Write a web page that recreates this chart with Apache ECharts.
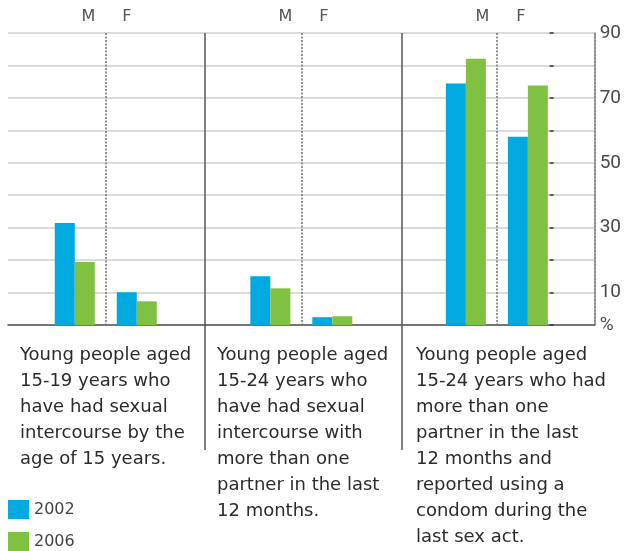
<!DOCTYPE html>
<html>
<head>
<meta charset="utf-8">
<script src="https://cdn.jsdelivr.net/npm/echarts@6/dist/echarts.min.js"></script>
<style>
html, body { margin: 0; padding: 0; background: #fff; }
#main { width: 624px; height: 551px; }
</style>
</head>
<body>
<div id="main"></div>
<script>
// three indicators, each split into M / F, two survey years
var groups = ['A', 'B', 'C'];
var subGroups = ['M', 'F', 'M', 'F', 'M', 'F'];
var male2002 = [31.4, 15.0, 74.4];
var male2006 = [19.4, 11.3, 82.1];
var female2002 = [10.1, 2.4, 58.0];
var female2006 = [7.3, 2.7, 73.8];
var years = ['2002', '2006'];
var yTickLabels = { 0: '%', 10: '10', 30: '30', 50: '50', 70: '70', 90: '90' };
var notes = [
  'Young people aged\n15-19 years who\nhave had sexual\nintercourse by the\nage of 15 years.',
  'Young people aged\n15-24 years who\nhave had sexual\nintercourse with\nmore than one\npartner in the last\n12 months.',
  'Young people aged\n15-24 years who had\nmore than one\npartner in the last\n12 months and\nreported using a\ncondom during the\nlast sex act.'
];

var BLUE = '#00a9e0';
var GREEN = '#80c141';

var chart = echarts.init(document.getElementById('main'));

function noAxisBits(o) {
  o.axisLine = o.axisLine || { show: false };
  o.axisTick = { show: false };
  o.axisLabel = o.axisLabel || { show: false };
  o.splitLine = o.splitLine || { show: false };
  return o;
}

var noteLeft = [20, 217, 416];
var titles = notes.map(function (t, i) {
  return {
    text: t,
    left: noteLeft[i],
    top: 342,
    padding: 0,
    textStyle: {
      fontFamily: 'DejaVu Sans',
      fontSize: 18,
      fontWeight: 'normal',
      lineHeight: 26,
      color: '#2b2b2b'
    }
  };
});

var option = {
  animation: false,
  title: titles,
  legend: {
    data: years,
    orient: 'vertical',
    left: 8,
    top: 500,
    padding: 0,
    icon: 'rect',
    itemWidth: 21,
    itemHeight: 19,
    itemGap: 13,
    textStyle: { fontFamily: 'DejaVu Sans', fontSize: 16, color: '#444' }
  },
  grid: [
    { left: 8, right: 25, top: 33, bottom: 226 },
    { left: 8, right: 25, top: 33, bottom: 101 }
  ],
  xAxis: [
    noAxisBits({
      type: 'category', gridIndex: 0, position: 'bottom', data: groups,
      axisLine: { show: true, lineStyle: { color: '#555', width: 1.5 } }
    }),
    noAxisBits({
      type: 'category', gridIndex: 0, position: 'top', data: subGroups,
      splitLine: {
        show: true,
        // only the M | F boundaries are dotted
        interval: function (index) { return index % 2 === 1; },
        lineStyle: { color: '#6f6f6f', width: 1.5, type: [2, 1.5] }
      }
    }),
    noAxisBits({
      type: 'category', gridIndex: 1, position: 'bottom', data: groups,
      splitLine: {
        show: true, showMinLine: false, showMaxLine: false,
        lineStyle: { color: '#555', width: 1.5 }
      }
    }),
    noAxisBits({
      type: 'category', gridIndex: 1, position: 'top', data: groups,
      axisLabel: {
        show: true,
        margin: 8,
        formatter: function () { return '{m|M}{g| }{f|F}'; },
        rich: {
          m: { fontFamily: 'DejaVu Sans', fontSize: 16, color: '#555' },
          g: { width: 27 },
          f: { fontFamily: 'DejaVu Sans', fontSize: 16, color: '#555' }
        }
      }
    })
  ],
  yAxis: [
    {
      type: 'value', gridIndex: 0, position: 'right',
      min: 0, max: 90, interval: 10,
      axisLine: { show: true, lineStyle: { color: '#8a8a8a', width: 1.5 } },
      axisTick: { show: false },
      axisLabel: {
        margin: 5,
        fontFamily: 'Roboto',
        fontSize: 19,
        color: '#4a4a4a',
        formatter: function (v) { return yTickLabels[v] || ''; }
      },
      splitLine: { show: true, lineStyle: { color: '#cfcfcf', width: 1.5 } }
    },
    {
      type: 'value', gridIndex: 0, position: 'right', offset: -41,
      min: 0, max: 90, interval: 10,
      axisLine: { show: false },
      axisTick: { show: true, inside: true, length: 4, lineStyle: { color: '#333', width: 1.5 } },
      axisLabel: { show: false },
      splitLine: { show: false }
    },
    { type: 'value', gridIndex: 1, show: false }
  ],
  series: [
    { name: years[0], type: 'bar', xAxisIndex: 0, yAxisIndex: 0, data: male2002, barWidth: 20, barGap: 0, itemStyle: { color: BLUE } },
    { name: years[1], type: 'bar', xAxisIndex: 0, yAxisIndex: 0, data: male2006, barWidth: 20, barGap: 0, itemStyle: { color: GREEN } },
    // empty slot that keeps M and F apart
    { name: 'gap', type: 'bar', xAxisIndex: 0, yAxisIndex: 0, data: [null, null, null], barWidth: 22, barGap: 0, silent: true },
    { name: years[0], type: 'bar', xAxisIndex: 0, yAxisIndex: 0, data: female2002, barWidth: 20, barGap: 0, itemStyle: { color: BLUE } },
    { name: years[1], type: 'bar', xAxisIndex: 0, yAxisIndex: 0, data: female2006, barWidth: 20, barGap: 0, itemStyle: { color: GREEN } }
  ]
};

chart.setOption(option);
</script>
</body>
</html>
